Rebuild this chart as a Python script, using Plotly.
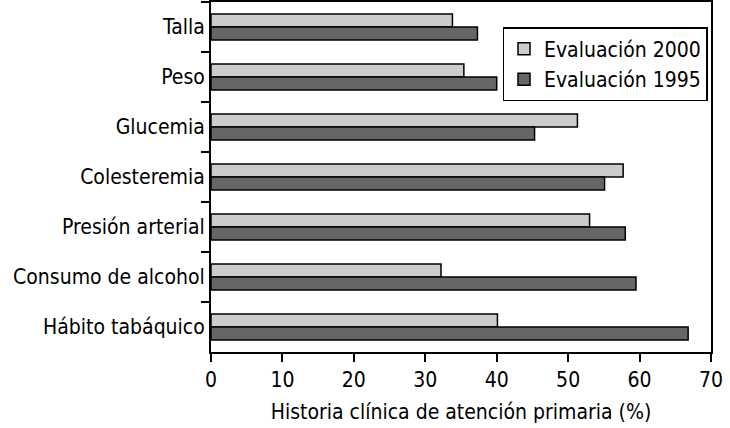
import plotly.graph_objects as go

categories = ["Talla", "Peso", "Glucemia", "Colesteremia", "Presión arterial",
              "Consumo de alcohol", "Hábito tabáquico"]
eval_2000 = [33.8, 35.4, 51.3, 57.7, 53.0, 32.2, 40.1]
eval_1995 = [37.3, 40.0, 45.3, 55.1, 58.0, 59.5, 66.8]
x_ticks = [0, 10, 20, 30, 40, 50, 60, 70]

FONT = "DejaVu Sans Condensed, Liberation Sans Narrow, sans-serif"
FS = 21

fig = go.Figure()
fig.add_trace(go.Bar(
    y=categories, x=eval_2000, orientation="h", name="Evaluación 2000",
    marker=dict(color="#cccccc", line=dict(color="#000000", width=1.5)),
))
fig.add_trace(go.Bar(
    y=categories, x=eval_1995, orientation="h", name="Evaluación 1995",
    marker=dict(color="#666666", line=dict(color="#000000", width=1.5)),
))

fig.update_layout(
    width=730, height=428,
    margin=dict(l=211, r=19, t=2, b=76, autoexpand=False),
    paper_bgcolor="white", plot_bgcolor="white",
    barmode="group", bargap=0.48, bargroupgap=0,
    font=dict(family=FONT, size=FS, color="#000000"),
    showlegend=True,
    legend=dict(
        x=0.583, y=0.928, xanchor="left", yanchor="top",
        bgcolor="white", bordercolor="#000000", borderwidth=1.5,
        font=dict(family=FONT, size=FS, color="#000000"),
        itemwidth=30, tracegroupgap=0,
    ),
    xaxis=dict(
        range=[0, 70], tickvals=x_ticks, ticktext=[str(v) for v in x_ticks],
        showgrid=False, zeroline=False, automargin=False,
        showline=True, linecolor="#000000", linewidth=2, mirror=True,
        ticks="outside", ticklen=8, tickwidth=2, tickcolor="#000000",
        tickfont=dict(family=FONT, size=FS),
        title=dict(text="Historia clínica de atención primaria (%)",
                   font=dict(family=FONT, size=FS), standoff=13),
    ),
    yaxis=dict(
        autorange="reversed", type="category", automargin=False,
        showgrid=False, zeroline=False,
        showline=True, linecolor="#000000", linewidth=2, mirror=True,
        ticks="outside", ticklen=8, tickwidth=2, tickcolor="#000000",
        tickson="boundaries",
        tickfont=dict(family=FONT, size=FS),
    ),
)

fig.write_html(
    "out.html",
    config={"displayModeBar": False},
    post_script="document.body.style.margin='0';document.body.style.overflow='hidden';",
)
